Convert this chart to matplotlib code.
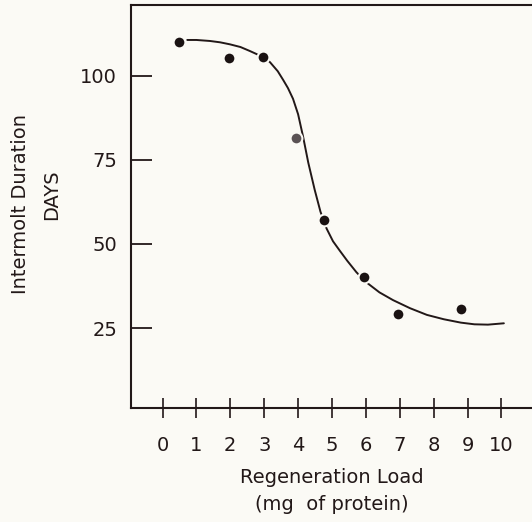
import matplotlib.pyplot as plt

# measured points (regeneration load in mg protein, intermolt duration in days)
load = [0.5, 1.95, 2.95, 3.95, 4.75, 5.95, 6.95, 8.8]
days = [110.2, 105.4, 105.6, 81.5, 57.1, 40.3, 29.1, 30.7]
# one dot is printed lighter (grey) in the original
dot_colors = ['#1a1212', '#1a1212', '#1a1212', '#5a5254', '#1a1212', '#1a1212', '#1a1212', '#1a1212']

# hand drawn fitted curve
curve_x = [0.73, 1.0, 1.4, 1.7, 1.99, 2.3, 2.58, 2.95, 3.17, 3.4, 3.56, 3.7, 3.85,
           4.0, 4.15, 4.3, 4.49, 4.66, 4.84, 5.03, 5.23, 5.45, 5.72, 6.0, 6.4, 6.8,
           7.3, 7.8, 8.3, 8.8, 9.2, 9.6, 10.07]
curve_y = [110.7, 110.7, 110.4, 110.0, 109.4, 108.6, 107.4, 105.7, 104.1, 101.4, 98.8, 96.4, 93.2,
           88.6, 81.8, 74.2, 66.1, 59.6, 54.6, 50.8, 48.0, 45.0, 41.6, 38.7, 35.6, 33.3,
           30.9, 28.9, 27.6, 26.6, 26.1, 26.0, 26.4]

xticks = list(range(0, 11))
yticks = [25, 50, 75, 100]

ink = '#221818'
bg = '#fbfaf5'

fig = plt.figure(figsize=(5.32, 5.22), dpi=100, facecolor=bg)
ax = fig.add_axes([0.2462, 0.2184, 0.7538, 0.772])
ax.set_facecolor(bg)

ax.plot(curve_x, curve_y, color=ink, lw=1.4, zorder=2,
        solid_joinstyle='round', solid_capstyle='round')
for x, y, c in zip(load, days, dot_colors):
    ax.plot(x, y, 'o', ms=8.5, mfc=c, mec=bg, mew=1.5, zorder=3)

ax.set_xlim(-0.93, 10.9)
ax.set_ylim(1.2, 121.1)

for s in ['left', 'bottom', 'top']:
    ax.spines[s].set_color(ink)
    ax.spines[s].set_linewidth(1.5)
ax.spines['right'].set_visible(False)

ax.set_xticks(xticks)
ax.set_yticks(yticks)
ax.tick_params(axis='x', direction='inout', length=15, width=1.2, color=ink,
               pad=13, labelsize=14, labelcolor=ink)
ax.tick_params(axis='y', direction='in', length=15, width=1.3, color=ink,
               pad=10, labelsize=14, labelcolor=ink)

ax.set_xlabel('Regeneration Load\n(mg  of protein)', fontsize=14, color=ink,
              linespacing=1.55, labelpad=9)

fig.text(21 / 532, 1 - 204 / 522, 'Intermolt Duration', rotation=90, fontsize=14,
         color=ink, ha='center', va='center')
fig.text(52 / 532, 1 - 195 / 522, 'DAYS', rotation=90, fontsize=14,
         color=ink, ha='center', va='center')

fig.savefig('out.png', dpi=100, facecolor=bg)
